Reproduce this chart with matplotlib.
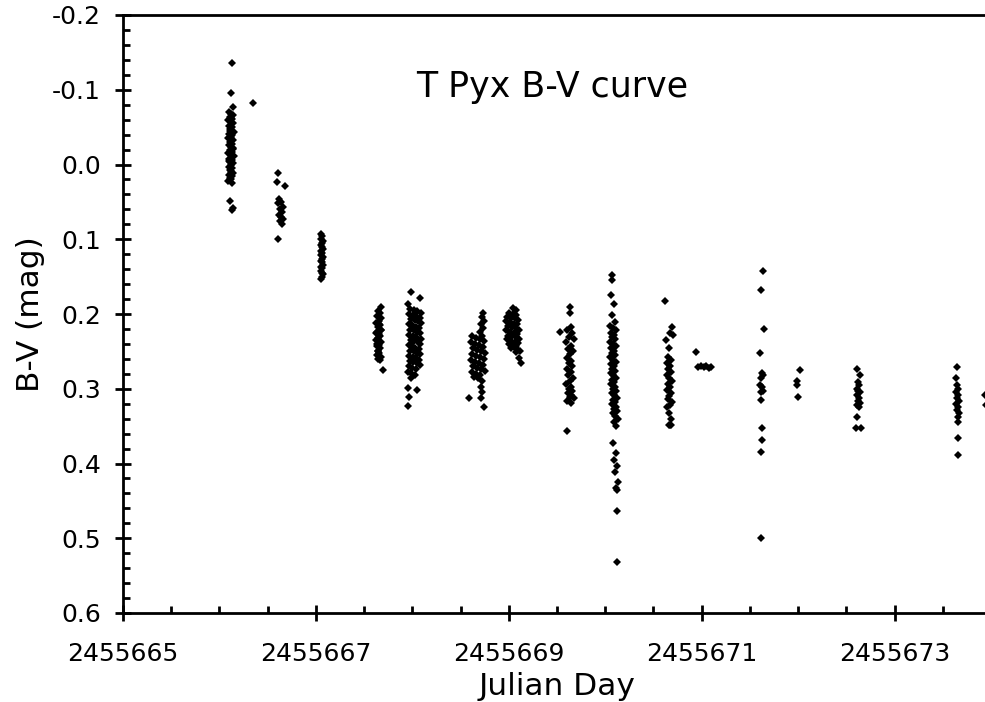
import numpy as np
import matplotlib
matplotlib.use("Agg")
import matplotlib.pyplot as plt
from matplotlib.ticker import MultipleLocator, FuncFormatter

# Julian Day = JD0 + t
JD0 = 2455665

t1 = [
    1.13, 1.12, 1.14, 1.35, 1.11, 1.13, 1.14, 1.10, 1.12, 1.14,
    1.11, 1.13, 1.09, 1.12, 1.14, 1.10, 1.13, 1.11, 1.12, 1.15,
    1.10, 1.13, 1.12, 1.09, 1.14, 1.11, 1.13, 1.10, 1.12, 1.14,
    1.11, 1.13, 1.09, 1.12, 1.15, 1.10, 1.13, 1.11, 1.14, 1.12,
    1.10, 1.13, 1.11, 1.12, 1.14, 1.10, 1.13, 1.11, 1.12, 1.09,
    1.13, 1.12, 1.11, 1.14, 1.10, 1.12,
]
v1 = [
    -0.136, -0.096, -0.077, -0.082, 0.049, 0.061, 0.058, -0.070, -0.068, -0.066,
    -0.063, -0.061, -0.059, -0.057, -0.055, -0.052, -0.050, -0.048, -0.046, -0.044,
    -0.041, -0.039, -0.037, -0.035, -0.033, -0.030, -0.028, -0.026, -0.024, -0.022,
    -0.019, -0.017, -0.015, -0.013, -0.011, -0.008, -0.006, -0.004, -0.002, 0.000,
    0.003, 0.005, 0.007, 0.009, 0.011, 0.014, 0.016, 0.018, 0.020, 0.022,
    0.025, -0.064, -0.045, -0.021, -0.005, 0.012,
]

t2 = [1.61, 1.60, 1.68, 1.62, 1.64, 1.61, 1.66, 1.63, 1.65, 1.62,
      1.64, 1.66, 1.63, 1.65, 1.61]
v2 = [0.011, 0.024, 0.029, 0.046, 0.050, 0.052, 0.057, 0.060, 0.064, 0.067,
      0.070, 0.073, 0.076, 0.079, 0.100]

t3 = [2.05, 2.06, 2.05, 2.07, 2.06, 2.05, 2.06, 2.07, 2.05, 2.06,
      2.05, 2.07, 2.06, 2.05, 2.06, 2.07, 2.05, 2.06, 2.05, 2.06,
      2.07, 2.06, 2.05]
v3 = [0.093, 0.096, 0.099, 0.102, 0.105, 0.108, 0.110, 0.113, 0.116, 0.118,
      0.121, 0.124, 0.126, 0.129, 0.131, 0.134, 0.137, 0.139, 0.142, 0.145,
      0.147, 0.150, 0.153]

t4 = [2.68, 2.64, 2.66, 2.63, 2.67, 2.65, 2.62, 2.66, 2.64, 2.67,
      2.63, 2.65, 2.66, 2.64, 2.62, 2.67, 2.65, 2.63, 2.66, 2.64,
      2.65, 2.63, 2.67, 2.64, 2.66, 2.62, 2.65, 2.63, 2.67, 2.64,
      2.70]
v4 = [0.191, 0.196, 0.199, 0.203, 0.206, 0.209, 0.212, 0.215, 0.218, 0.221,
      0.224, 0.227, 0.229, 0.232, 0.235, 0.238, 0.241, 0.243, 0.246, 0.249,
      0.252, 0.255, 0.257, 0.260, 0.262, 0.226, 0.214, 0.240, 0.222, 0.250,
      0.275]

t5 = [
    2.99, 3.08, 2.95,
    2.98, 3.02, 3.05, 3.09, 2.97, 3.01, 3.04, 3.08,
    2.99, 3.03, 3.06, 3.09, 2.97, 3.00, 3.04, 3.07,
    2.98, 3.02, 3.05, 3.08, 2.97, 3.01, 3.04, 3.09,
    2.99, 3.02, 3.06, 3.08, 2.97, 3.00, 3.03, 3.07,
    2.98, 3.02, 3.05, 3.08, 2.97, 3.01, 3.04, 3.07,
    2.98, 3.01, 3.05, 3.08, 2.97, 3.00, 3.04,
    2.96, 2.99, 3.03, 2.99, 2.95, 3.05, 2.97, 2.96,
]
v5 = [
    0.171, 0.179, 0.187,
    0.193, 0.194, 0.196, 0.198, 0.200, 0.201, 0.203, 0.205,
    0.207, 0.208, 0.210, 0.212, 0.214, 0.215, 0.217, 0.219,
    0.221, 0.222, 0.224, 0.226, 0.228, 0.229, 0.231, 0.233,
    0.235, 0.236, 0.238, 0.240, 0.242, 0.243, 0.245, 0.247,
    0.249, 0.250, 0.252, 0.254, 0.256, 0.257, 0.259, 0.261,
    0.263, 0.264, 0.266, 0.268, 0.270, 0.272, 0.274,
    0.277, 0.279, 0.281, 0.285, 0.299, 0.302, 0.311, 0.323,
]

t6 = [
    3.73, 3.72, 3.74, 3.71, 3.73, 3.70, 3.72,
    3.62, 3.66, 3.70, 3.74, 3.61, 3.65, 3.69, 3.73,
    3.63, 3.67, 3.71, 3.75, 3.62, 3.66, 3.70, 3.74,
    3.61, 3.65, 3.69, 3.73, 3.63, 3.67, 3.71, 3.75,
    3.62, 3.66, 3.70, 3.64, 3.68, 3.72,
    3.71, 3.72, 3.59, 3.71, 3.74,
]
v6 = [
    0.199, 0.204, 0.209, 0.214, 0.219, 0.224, 0.229,
    0.230, 0.232, 0.234, 0.236, 0.238, 0.240, 0.242, 0.244,
    0.246, 0.248, 0.250, 0.252, 0.254, 0.256, 0.258, 0.260,
    0.262, 0.264, 0.266, 0.268, 0.270, 0.272, 0.274, 0.276,
    0.278, 0.280, 0.282, 0.284, 0.286, 0.289,
    0.298, 0.304, 0.313, 0.313, 0.325,
]

t7 = [
    4.04, 4.07,
    4.00, 4.04, 4.08, 3.98, 4.02, 4.06, 4.10,
    3.97, 4.01, 4.05, 4.09, 3.99, 4.03, 4.07, 4.11,
    3.97, 4.01, 4.05, 4.09, 3.99, 4.03, 4.07, 4.11,
    3.98, 4.02, 4.06, 4.10, 4.00, 4.04, 4.08,
    4.02, 4.06, 4.10, 4.08, 4.12, 4.11, 4.13,
]
v7 = [
    0.192, 0.195,
    0.198, 0.200, 0.201, 0.204, 0.205, 0.206, 0.208,
    0.210, 0.211, 0.213, 0.214, 0.216, 0.218, 0.219, 0.221,
    0.222, 0.224, 0.225, 0.227, 0.229, 0.230, 0.231, 0.233,
    0.234, 0.236, 0.237, 0.239, 0.240, 0.242, 0.243,
    0.245, 0.246, 0.248, 0.251, 0.250, 0.259, 0.266,
]

t8 = [
    4.63, 4.63, 4.53, 4.65,
    4.60, 4.66, 4.62, 4.68, 4.59, 4.64, 4.61, 4.67, 4.63, 4.60,
    4.65, 4.62, 4.66, 4.60, 4.64, 4.61, 4.67, 4.63, 4.59, 4.65,
    4.62, 4.66, 4.61, 4.64, 4.68, 4.60, 4.63, 4.65,
    4.60,
]
v8 = [
    0.191, 0.199, 0.224, 0.218,
    0.222, 0.226, 0.231, 0.234, 0.238, 0.243, 0.247, 0.250, 0.254, 0.259,
    0.263, 0.266, 0.270, 0.274, 0.278, 0.282, 0.286, 0.289, 0.293, 0.297,
    0.300, 0.303, 0.306, 0.309, 0.312, 0.316, 0.311, 0.319,
    0.357,
]

t9 = [
    5.07, 5.07, 5.06, 5.09, 5.07, 5.10,
    5.05, 5.08, 5.11, 5.06, 5.09, 5.07, 5.10, 5.05, 5.08, 5.11,
    5.06, 5.09, 5.07, 5.10, 5.05, 5.08, 5.11, 5.06, 5.09, 5.07,
    5.10, 5.06, 5.08, 5.11, 5.07, 5.09, 5.06, 5.10, 5.08, 5.11,
    5.07, 5.09, 5.12, 5.08, 5.10, 5.07, 5.11, 5.09, 5.12, 5.08,
    5.10, 5.13, 5.09, 5.11,
    5.08, 5.11, 5.09, 5.12, 5.10, 5.13, 5.11, 5.12, 5.12, 5.12,
]
v9 = [
    0.148, 0.155, 0.175, 0.186, 0.202, 0.211,
    0.216, 0.219, 0.222, 0.225, 0.228, 0.231, 0.234, 0.237, 0.240, 0.243,
    0.246, 0.249, 0.252, 0.255, 0.258, 0.261, 0.264, 0.267, 0.270, 0.273,
    0.276, 0.279, 0.282, 0.285, 0.288, 0.291, 0.294, 0.297, 0.300, 0.303,
    0.306, 0.309, 0.312, 0.315, 0.318, 0.321, 0.324, 0.327, 0.330, 0.333,
    0.336, 0.340, 0.344, 0.350,
    0.372, 0.386, 0.395, 0.404, 0.412, 0.425, 0.433, 0.435, 0.463, 0.532,
]

t10 = [
    5.62, 5.69, 5.67, 5.63, 5.70, 5.66,
    5.65, 5.68, 5.64, 5.67, 5.65, 5.68, 5.64, 5.66, 5.69, 5.65,
    5.67, 5.64, 5.68, 5.66, 5.65, 5.69, 5.67, 5.64, 5.66, 5.68,
    5.67, 5.66, 5.68,
]
v10 = [
    0.182, 0.217, 0.226, 0.235, 0.228, 0.245,
    0.258, 0.262, 0.266, 0.270, 0.274, 0.278, 0.282, 0.286, 0.290, 0.294,
    0.298, 0.302, 0.306, 0.310, 0.314, 0.318, 0.322, 0.325, 0.333, 0.341,
    0.349, 0.349, 0.349,
]

t11 = [5.94, 5.96, 5.99, 6.02, 6.05, 6.08, 6.10]
v11 = [0.251, 0.271, 0.270, 0.271, 0.270, 0.272, 0.271]

t12 = [6.64, 6.62, 6.65, 6.61, 6.63, 6.64, 6.62, 6.61, 6.63, 6.62,
       6.64, 6.62, 6.63, 6.63, 6.62, 6.62]
v12 = [0.143, 0.168, 0.220, 0.252, 0.279, 0.281, 0.285, 0.295, 0.298, 0.305,
       0.303, 0.315, 0.352, 0.369, 0.385, 0.500]

t13 = [7.02, 6.99, 6.99, 7.00]
v13 = [0.275, 0.290, 0.295, 0.311]

t14 = [7.61, 7.64, 7.62, 7.63, 7.61, 7.62, 7.64, 7.61, 7.63, 7.62,
       7.64, 7.61, 7.63, 7.61, 7.60, 7.65]
v14 = [0.273, 0.282, 0.291, 0.295, 0.300, 0.303, 0.305, 0.309, 0.312, 0.316,
       0.319, 0.322, 0.325, 0.338, 0.352, 0.352]

t15 = [8.65, 8.64, 8.65, 8.66, 8.64, 8.66, 8.65, 8.67, 8.64, 8.66,
       8.65, 8.67, 8.66, 8.66, 8.66, 8.66]
v15 = [0.271, 0.286, 0.295, 0.300, 0.305, 0.309, 0.313, 0.317, 0.321, 0.325,
       0.329, 0.333, 0.338, 0.344, 0.366, 0.389]

t16 = [8.94, 8.95]
v16 = [0.309, 0.322]

nights_t = [t1, t2, t3, t4, t5, t6, t7, t8, t9, t10, t11, t12, t13, t14, t15, t16]
nights_v = [v1, v2, v3, v4, v5, v6, v7, v8, v9, v10, v11, v12, v13, v14, v15, v16]

jd = JD0 + np.concatenate([np.array(t) for t in nights_t])
bv = np.concatenate([np.array(v) for v in nights_v])

plt.rcParams['font.family'] = ['DejaVu Sans']

fig = plt.figure(figsize=(9.85, 7.02), dpi=100)
ax = fig.add_axes([123 / 985, 89 / 702, 868 / 985, 598 / 702])

ax.plot(jd, bv, linestyle='none', marker='D', markersize=4.2,
        color='black', markeredgewidth=0)

ax.set_xlim(2455665, 2455674)
ax.set_ylim(0.6, -0.2)

ax.xaxis.set_major_locator(MultipleLocator(2, offset=1))
ax.xaxis.set_minor_locator(MultipleLocator(0.5))
ax.yaxis.set_major_locator(MultipleLocator(0.1))
ax.yaxis.set_minor_locator(MultipleLocator(0.02))
ax.xaxis.set_major_formatter(FuncFormatter(lambda x, p: f"{x:.0f}"))
ax.yaxis.set_major_formatter(FuncFormatter(lambda y, p: f"{y:.1f}"))

ax.tick_params(which='major', direction='inout', length=12, width=2,
               labelsize=18)
ax.tick_params(axis='x', which='major', pad=15)
ax.tick_params(axis='y', which='major', pad=10)
ax.tick_params(which='minor', direction='in', length=5, width=2)
ax.tick_params(top=False, right=False, which='both')

for side in ax.spines.values():
    side.set_linewidth(2)

ax.set_xlabel('Julian Day', fontsize=22.5, labelpad=4)
ax.set_ylabel('B-V (mag)', fontsize=22.5, labelpad=5)

ax.text(0.495, 0.88, 'T Pyx B-V curve', transform=ax.transAxes,
        ha='center', va='center', fontsize=25)

fig.savefig('out.png', dpi=100)
